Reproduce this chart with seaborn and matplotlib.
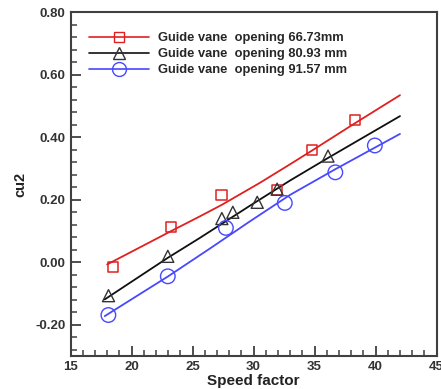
import numpy as np
import pandas as pd
import matplotlib
matplotlib.use("Agg")
import matplotlib.pyplot as plt
from matplotlib.lines import Line2D
from matplotlib.ticker import MultipleLocator, FormatStrFormatter
import seaborn as sns

# measured points
sq_x = [18.45, 23.25, 27.38, 31.93, 34.8, 38.3]
sq_y = [-0.015, 0.112, 0.215, 0.232, 0.36, 0.455]
tri_x = [18.11, 22.97, 27.4, 28.3, 30.3, 31.93, 36.1]
tri_y = [-0.107, 0.019, 0.14, 0.16, 0.192, 0.234, 0.34]
cir_x = [18.1, 22.97, 27.73, 32.56, 36.7, 39.94]
cir_y = [-0.169, -0.045, 0.11, 0.19, 0.288, 0.374]

# fitted curves
red_x = [18.0, 23.2, 25.6, 27.4, 30.5, 33.0, 34.8, 38.3, 42.0]
red_y = [-0.007, 0.099, 0.147, 0.184, 0.254, 0.314, 0.358, 0.445, 0.535]
blk_x = [17.8, 23.0, 25.6, 29.7, 33.0, 36.1, 42.0]
blk_y = [-0.119, 0.015, 0.078, 0.181, 0.262, 0.334, 0.468]
blu_x = [17.8, 23.0, 26.5, 29.7, 33.0, 36.7, 42.0]
blu_y = [-0.1725, -0.045, 0.046, 0.131, 0.216, 0.298, 0.411]

labels = ["Guide vane  opening 66.73mm",
          "Guide vane  opening 80.93 mm",
          "Guide vane  opening 91.57 mm"]
colors = ["#e02020", "#101010", "#4848ff"]

sns.set_style("ticks")
plt.rcParams['font.family'] = ['Liberation Sans', 'DejaVu Sans']

fig = plt.figure(figsize=(4.41, 3.89), dpi=100)
ax = fig.add_axes([0.16, 0.085, 0.83, 0.883])

curves = [(red_x, red_y), (blk_x, blk_y), (blu_x, blu_y)]
for (cx, cy), c in zip(curves, colors):
    sns.lineplot(x=cx, y=cy, color=c, linewidth=1.3, ax=ax, sort=False)

ax.scatter(sq_x, sq_y, marker='s', s=55, facecolors='none', edgecolors=colors[0], linewidths=1.1, zorder=3)
ax.scatter(tri_x, tri_y, marker='^', s=75, facecolors='none', edgecolors='#333333', linewidths=1.0, zorder=3)
ax.scatter(cir_x, cir_y, marker='o', s=110, facecolors='none', edgecolors=colors[2], linewidths=1.0, zorder=3)

ax.set_xlim(15, 45)
ax.set_ylim(-0.30, 0.80)
ax.xaxis.set_major_locator(MultipleLocator(5))
ax.xaxis.set_minor_locator(MultipleLocator(1))
ax.yaxis.set_major_locator(MultipleLocator(0.2))
ax.yaxis.set_minor_locator(MultipleLocator(0.04))
ax.yaxis.set_major_formatter(FormatStrFormatter('%.2f'))
ax.tick_params(which='both', direction='in', colors='#404040', labelcolor='#333333',
               top=False, right=False, labelsize=9.5)
ax.tick_params(which='major', length=7, width=1.3)
ax.tick_params(which='minor', length=4.5, width=1.1)
for lab in ax.get_xticklabels() + ax.get_yticklabels():
    lab.set_fontweight('bold')
for sp in ax.spines.values():
    sp.set_color('#404040')
    sp.set_linewidth(1.5)

ax.set_xlabel("Speed factor", fontsize=11, fontweight='bold', color='#222222', labelpad=1)
ax.set_ylabel("cu2", fontsize=10.5, fontweight='bold', color='#222222', labelpad=6)

handles = [
    Line2D([], [], color=colors[0], marker='s', markersize=7.5, mfc='none', mec=colors[0], lw=1.2),
    Line2D([], [], color=colors[1], marker='^', markersize=8, mfc='none', mec='#333333', lw=1.2),
    Line2D([], [], color=colors[2], marker='o', markersize=10, mfc='none', mec=colors[2], lw=1.2),
]
ax.legend(handles, labels, loc='upper left', bbox_to_anchor=(0.037, 0.957), frameon=False,
          handlelength=4.6, handletextpad=0.75, labelspacing=0.3, borderaxespad=0,
          prop={'weight': 'bold', 'size': 9.3})

fig.savefig("out.png", dpi=100)
